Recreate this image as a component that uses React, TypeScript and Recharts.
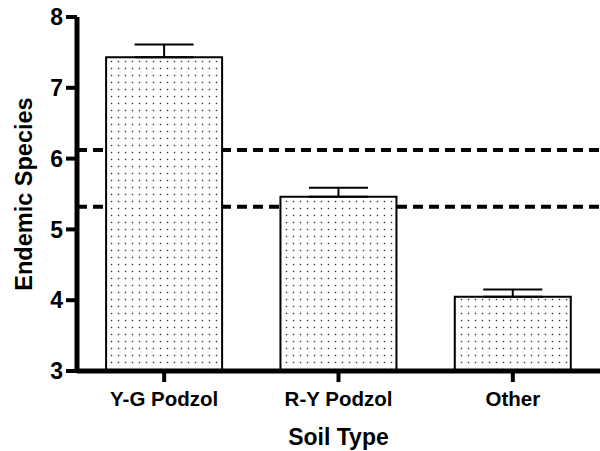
import React from 'react';
import { BarChart, Bar, XAxis, YAxis, ErrorBar, ReferenceLine, Label } from 'recharts';

const categories = ['Y-G Podzol', 'R-Y Podzol', 'Other'];
const means = [7.43, 5.46, 4.05];
const errorsUp = [0.18, 0.13, 0.1];
const yTicks = [3, 4, 5, 6, 7, 8];
const dashedLevels = [6.12, 5.32];

const data = categories.map((name, i) => ({ name, value: means[i], err: [0, errorsUp[i]] }));

const FONT = '"Liberation Sans", Arial, Helvetica, sans-serif';
const W = 600;
const H = 451;
const MARGIN = { top: 17, right: 0, bottom: 0, left: 0 };

const YLabel = (props: any) => {
  const vb = props.viewBox || { x: 0, y: 17, width: 77, height: 354 };
  const cx = 32;
  const cy = vb.y + vb.height / 2;
  return (
    <text
      x={cx}
      y={cy}
      transform={`rotate(-90 ${cx} ${cy})`}
      textAnchor="middle"
      fontFamily={FONT}
      fontWeight="bold"
      fontSize={23.5}
      fill="#000"
    >
      Endemic Species
    </text>
  );
};

export default function App() {
  return (
    <div style={{ position: 'absolute', left: 0, top: 0, width: W, height: H, background: '#fff' }}>
      <svg width={0} height={0} style={{ position: 'absolute' }}>
        <defs>
          <pattern id="dots" patternUnits="userSpaceOnUse" width={7} height={7} x={3} y={2}>
            <rect x={0} y={0} width={7} height={7} fill="#fff" />
            <rect x={2.8} y={2.8} width={1.4} height={1.4} fill="#333" />
          </pattern>
        </defs>
      </svg>
      {/* background layer: dashed reference lines drawn behind the bars */}
      <div style={{ position: 'absolute', left: 0, top: 0 }}>
        <BarChart width={W} height={H} data={data} margin={{ ...MARGIN, left: 77, bottom: 80 }}>
          <XAxis dataKey="name" hide />
          <YAxis type="number" domain={[3, 8]} ticks={yTicks} hide />
          <Bar dataKey="value" fill="none" stroke="none" isAnimationActive={false} />
          {dashedLevels.map((lv) => (
            <ReferenceLine key={lv} y={lv} stroke="#000" strokeWidth={4} strokeDasharray="10 6" />
          ))}
        </BarChart>
      </div>
      {/* foreground layer: axes, bars, error bars */}
      <div style={{ position: 'absolute', left: 0, top: 0 }}>
        <BarChart width={W} height={H} data={data} margin={MARGIN} barCategoryGap="16.7%">
          <XAxis
            dataKey="name"
            height={80}
            interval={0}
            axisLine={{ stroke: '#000', strokeWidth: 5 }}
            tickLine={{ stroke: '#000', strokeWidth: 4 }}
            tickSize={11}
            tickMargin={9}
            tick={{ fill: '#000', fontSize: 20.5, fontWeight: 'bold', fontFamily: FONT }}
          >
            <Label
              value="Soil Type"
              position="insideBottom"
              offset={6}
              style={{ fill: '#000', fontSize: 23, fontWeight: 'bold', fontFamily: FONT }}
            />
          </XAxis>
          <YAxis
            type="number"
            domain={[3, 8]}
            ticks={yTicks}
            width={77}
            interval={0}
            axisLine={{ stroke: '#000', strokeWidth: 5 }}
            tickLine={{ stroke: '#000', strokeWidth: 4 }}
            tickSize={11}
            tickMargin={3}
            tick={{ fill: '#000', fontSize: 23, fontWeight: 'bold', fontFamily: FONT }}
          >
            <Label content={YLabel} />
          </YAxis>
          <Bar dataKey="value" fill="url(#dots)" stroke="#000" strokeWidth={2} isAnimationActive={false}>
            <ErrorBar dataKey="err" direction="y" width={29.5} stroke="#000" strokeWidth={2} />
          </Bar>
        </BarChart>
      </div>
    </div>
  );
}
